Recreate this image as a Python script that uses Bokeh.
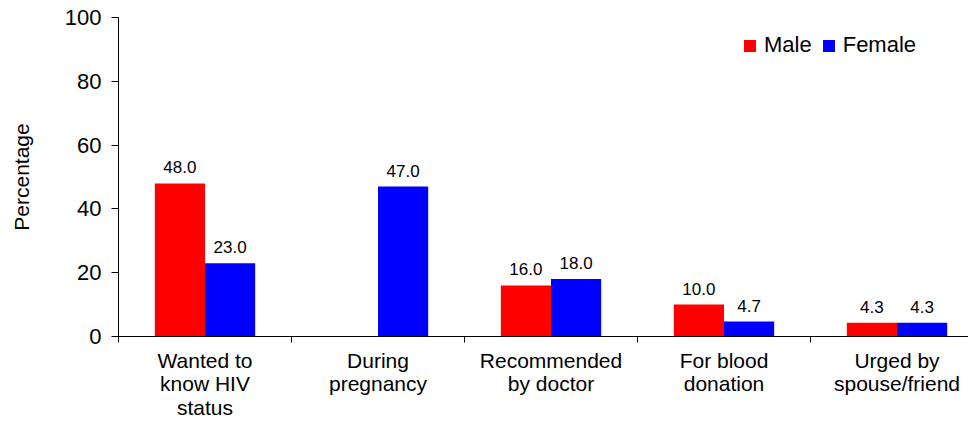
from bokeh.plotting import figure
from bokeh.models import ColumnDataSource, Range1d, FixedTicker, LabelSet, Legend, LegendItem
from bokeh.core.properties import value
from bokeh.transform import dodge
from bokeh.embed import file_html
from bokeh.resources import INLINE

categories = ["Wanted to\nknow HIV\nstatus", "During\npregnancy", "Recommended\nby doctor",
              "For blood\ndonation", "Urged by\nspouse/friend"]
male = [48.0, float("nan"), 16.0, 10.0, 4.3]
female = [23.0, 47.0, 18.0, 4.7, 4.3]
y_ticks = [0, 20, 40, 60, 80, 100]

FONT = "Liberation Sans"
n = len(categories)
xc = [i + 0.5 for i in range(n)]
male_lbl = ["" if v != v else f"{v:.1f}" for v in male]
female_lbl = [f"{v:.1f}" for v in female]

src = ColumnDataSource(dict(x=xc, male=male, female=female, ml=male_lbl, fl=female_lbl))

p = figure(width=968, height=422, output_backend="svg", toolbar_location=None,
           x_range=Range1d(0, 850 / 173), y_range=Range1d(0, 100),
           min_border_left=118, min_border_right=0, min_border_top=17, min_border_bottom=86)
p.outline_line_color = None
p.grid.visible = False
p.background_fill_color = "white"

bw = 0.29
rm = p.vbar(x=dodge("x", -bw / 2, range=p.x_range), top="male", width=bw, source=src,
            fill_color="#FF0000", line_color=None)
rf = p.vbar(x=dodge("x", bw / 2, range=p.x_range), top="female", width=bw, source=src,
            fill_color="#0000FF", line_color=None)

for col, off in (("ml", -bw / 2), ("fl", bw / 2)):
    top = "male" if col == "ml" else "female"
    ls = LabelSet(x=dodge("x", off, range=p.x_range), y=top, text=col, source=src,
                  text_align="center", text_baseline="bottom", y_offset=10,
                  text_font=value(FONT), text_font_size=value("17px"), text_color="black")
    p.add_layout(ls)

# x axis
xa = p.xaxis[0]
xa.ticker = FixedTicker(ticks=xc, minor_ticks=list(range(n + 1)))
xa.major_label_overrides = {x: c for x, c in zip(xc, categories)}
xa.major_tick_out = 0
xa.major_tick_in = 0
xa.minor_tick_out = 6
xa.minor_tick_in = 0
xa.major_label_standoff = 6
xa.major_label_text_font = FONT
xa.major_label_text_font_size = "21px"
xa.major_label_text_line_height = 1.04
xa.major_label_text_color = "black"
xa.axis_line_color = "black"
xa.minor_tick_line_color = "black"

ya = p.yaxis[0]
ya.ticker = FixedTicker(ticks=y_ticks)
ya.minor_tick_line_color = None
ya.major_tick_out = 7
ya.major_tick_in = 0
ya.major_label_standoff = 10
ya.major_label_text_font = FONT
ya.major_label_text_font_size = "22px"
ya.major_label_text_color = "black"
ya.axis_line_color = "black"
ya.major_tick_line_color = "black"
ya.axis_label = "Percentage"
ya.axis_label_text_font = FONT
ya.axis_label_text_font_size = "21px"
ya.axis_label_text_font_style = "normal"
ya.axis_label_text_color = "black"
ya.axis_label_standoff = 29

legend = Legend(items=[LegendItem(label="Male", renderers=[rm]),
                       LegendItem(label="Female", renderers=[rf])],
                orientation="horizontal", location=(624, 278),
                glyph_width=15, glyph_height=15, label_standoff=7, spacing=9,
                padding=0, margin=0, border_line_color=None, background_fill_alpha=0,
                label_text_font=FONT, label_text_font_size="22px", label_text_color="black")
p.add_layout(legend)

open("out.html", "w").write(file_html(p, INLINE))
